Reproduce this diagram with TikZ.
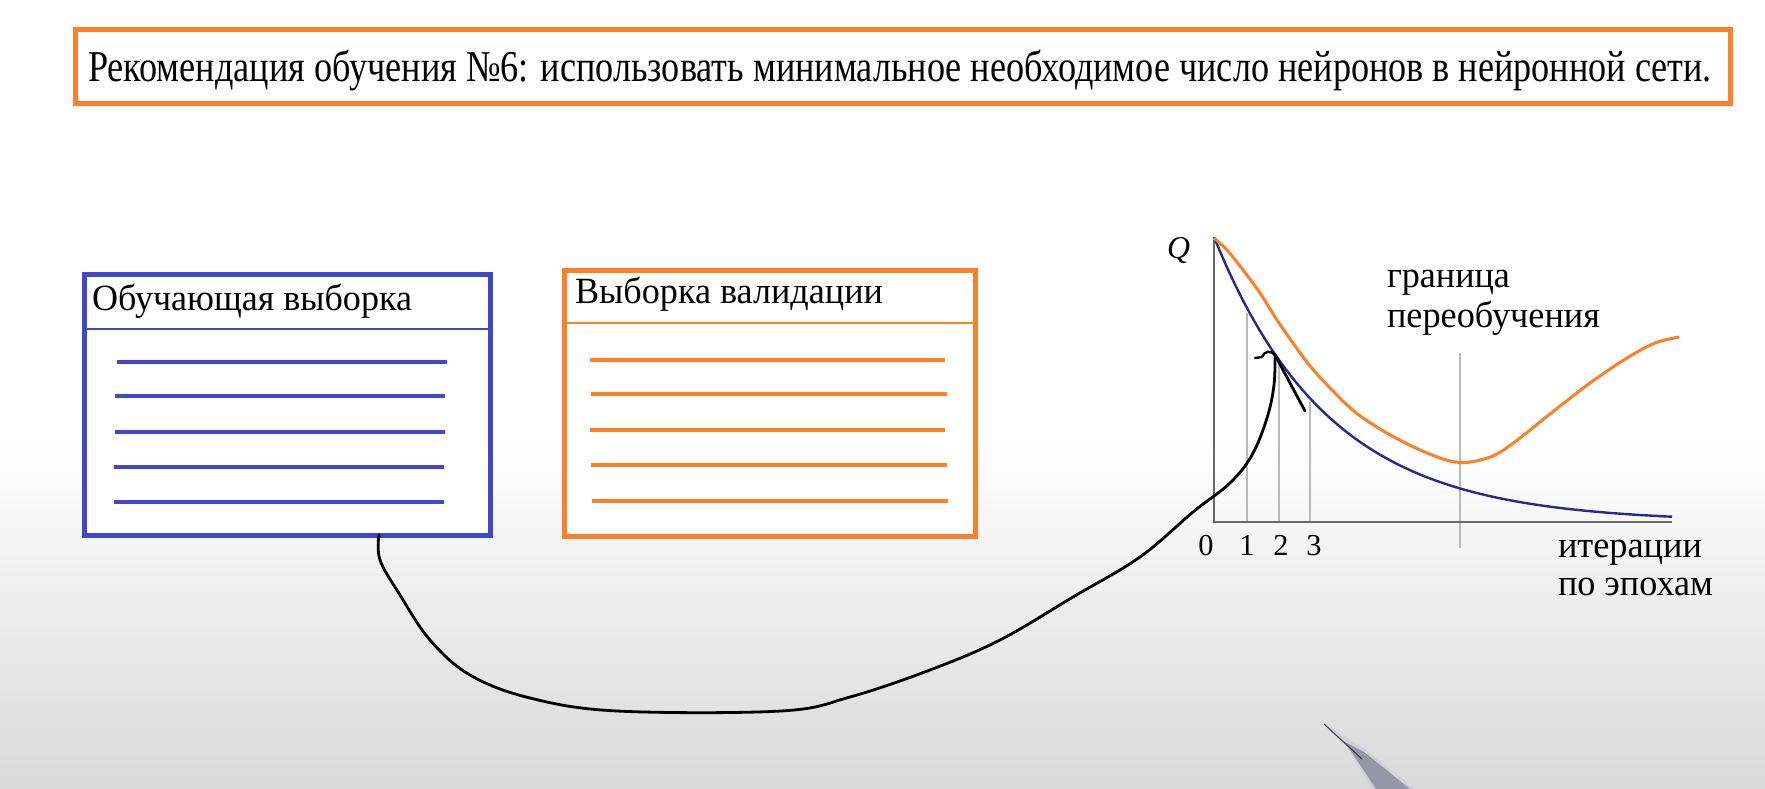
\documentclass[tikz,border=0pt]{standalone}
\usepackage{fontspec}
\setmainfont{Liberation Serif}
\newfontfamily\labelfont{Liberation Serif}
\usepackage{graphicx}
\definecolor{pblue}{RGB}{63,72,204}
\definecolor{porange}{RGB}{255,127,39}
\definecolor{navy}{RGB}{42,40,142}
\definecolor{axisgray}{RGB}{105,105,105}
\definecolor{gridgray}{RGB}{185,185,185}
\definecolor{pengray}{RGB}{150,150,168}
\newcommand{\lbl}[2]{\resizebox{#1}{\height}{\labelfont\fontsize{37}{40}\selectfont #2}}
\newcommand{\sclbl}[2]{\scalebox{#1}{\labelfont\fontsize{37}{40}\selectfont #2}}
\begin{document}
\begin{tikzpicture}[x=1pt,y=-1pt,
  txt/.style={anchor=base west, inner sep=0pt, outer sep=0pt, text=black},
  digit/.style={anchor=base, inner sep=0pt, outer sep=0pt, text=black},
  titlebox/.style={draw=porange, line width=5pt, fill=white, inner sep=0pt, anchor=north west},
  trainbox/.style={draw=pblue, line width=4.5pt, fill=white, inner sep=0pt, anchor=north west},
  valbox/.style={draw=porange, line width=4.5pt, fill=white, inner sep=0pt, anchor=north west},
  bline/.style={pblue, line width=4pt},
  oline/.style={porange, line width=4pt},
  axisline/.style={axisgray, line width=2pt},
  gridline/.style={gridgray, line width=1.4pt},
  handline/.style={black, line width=2.8pt, line cap=round, line join=round}
]
\useasboundingbox (0,0) rectangle (1765,789);
% background
\fill[white] (0,0) rectangle (1765,789);
\shade[top color=white, bottom color=black!15] (0,440) rectangle (1765,789);

% title
\node[titlebox, minimum width=1655pt, minimum height=74pt] (title) at (72.5,27.5) {};
\node[txt] (titletext) at (88,82) {\resizebox{1624pt}{\height}{\labelfont\fontsize{44}{48}\selectfont Рекомендация обучения №6: использовать минимальное необходимое число нейронов в нейронной сети.}};

% training set box
\node[trainbox, minimum width=406pt, minimum height=261pt] (train) at (82,272) {};
\draw[pblue, line width=2pt] (train.west |- 0,329) -- (train.east |- 0,329);
\node[txt] (traintext) at (92,310) {\lbl{320pt}{Обучающая выборка}};
\draw[bline] (117,362) -- (447,362);
\draw[bline] (115,396) -- (445,396);
\draw[bline] (115,432) -- (445,432);
\draw[bline] (114,467) -- (444,467);
\draw[bline] (114,502) -- (444,502);

% validation set box
\node[valbox, minimum width=411pt, minimum height=266pt] (val) at (562,268) {};
\draw[porange, line width=1.6pt] (val.west |- 0,323) -- (val.east |- 0,323);
\node[txt] (valtext) at (575,303) {\lbl{308pt}{Выборка валидации}};
\draw[oline] (590,360) -- (945,360);
\draw[oline] (591,394) -- (947,394);
\draw[oline] (590,430) -- (945,430);
\draw[oline] (591,465) -- (947,465);
\draw[oline] (592,501) -- (948,501);

% graph
\coordinate (origin) at (1214,522);
\coordinate (ytop) at (1214,240);
\coordinate (xend) at (1672,522);
\draw[gridline] (1247,313) -- (1247,522);
\draw[gridline] (1279,360) -- (1279,522);
\draw[gridline] (1310,402) -- (1310,522);
\draw[gridline] (1460,353) -- (1460,548);
\draw[axisline] (ytop) -- (origin) -- (xend);
\draw[navy, line width=2.4pt] plot[domain=0:458, samples=90] ({1214+\x}, {522-285*exp(-\x/115)});
\draw[porange, line width=3pt, line join=round] plot[smooth, tension=0.55] coordinates {
 (1214,238) (1227,250) (1243,270) (1260,293) (1277,320) (1293,343) (1310,366)
 (1330,388) (1355,412) (1385,432) (1420,450) (1450,461) (1470,462)
 (1495,455) (1520,438) (1550,414) (1590,383) (1627,358) (1655,343) (1679,337)};
\node[txt] (Q) at (1167,258) {\scalebox{0.86}{\labelfont\itshape\fontsize{37}{40}\selectfont Q}};
\node[digit] (d0) at (1206,555) {\sclbl{0.82}{0}};
\node[digit] (d1) at (1247,555) {\sclbl{0.82}{1}};
\node[digit] (d2) at (1281,555) {\sclbl{0.82}{2}};
\node[digit] (d3) at (1314,555) {\sclbl{0.82}{3}};
\node[txt] (gr1) at (1387,287) {\lbl{123pt}{граница}};
\node[txt] (gr2) at (1387,327) {\lbl{213pt}{переобучения}};
\node[txt] (it1) at (1558,557) {\lbl{144pt}{итерации}};
\node[txt] (it2) at (1558,595) {\lbl{155pt}{по эпохам}};

% hand-drawn connector
\coordinate (cstart) at (379,535);
\coordinate (ctip) at (1275,355);
\draw[handline] plot[smooth, tension=0.6] coordinates {
 (cstart) (380,560) (400,595) (430,640) (470,675) (530,698) (617,711)
 (781,711) (850,697) (930,670) (1000,640) (1073,597)
 (1140,557) (1193,512) (1230,483) (1252,455)
 (1267,418) (1274,385) (ctip)};
\draw[handline] (ctip) -- (1305,411);
\draw[handline, line width=2.4pt] (1255,358) -- (1262,357) .. controls (1264,351) and (1271,350) .. (ctip);

% pen
\fill[pengray!45] (1321,721) -- (1342,739) -- (1372,789) -- (1414,789) -- (1366,750) -- cycle;
\fill[pengray] (1345,742) -- (1376,789) -- (1410,789) -- (1364,752) -- cycle;
\draw[black!80, line width=1pt] (1324,724) -- (1362,759);
\end{tikzpicture}
\end{document}
